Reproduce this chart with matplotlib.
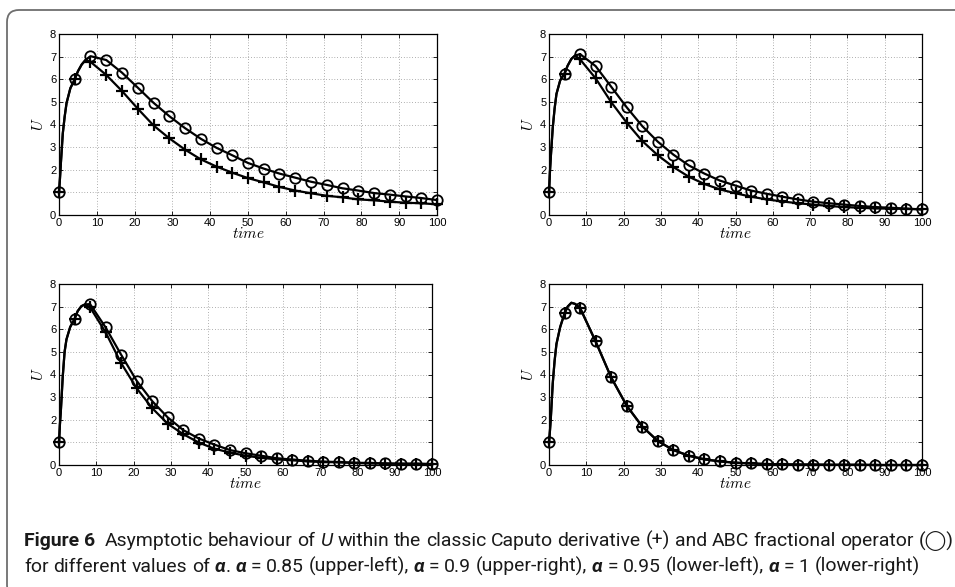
import numpy as np
import matplotlib
matplotlib.use("Agg")
import matplotlib.pyplot as plt
from matplotlib.patches import FancyBboxPatch

# marker times (every 100/24)
t_mark = [0, 4.17, 8.33, 12.5, 16.67, 20.83, 25, 29.17, 33.33, 37.5, 41.67, 45.83, 50,
          54.17, 58.33, 62.5, 66.67, 70.83, 75, 79.17, 83.33, 87.5, 91.67, 95.83, 100]

# dense start of the curves
t_early = [0, 0.25, 0.5, 1, 1.5, 2, 3, 4.17, 5, 6, 7]

# alpha = 0.85 (upper-left)
early_085 = [1.0, 1.6, 2.3, 3.6, 4.35, 4.95, 5.6, 6.0, 6.35, 6.65, 6.85]
abc_085 = [1.0, 6.0, 7.02, 6.85, 6.29, 5.63, 4.96, 4.37, 3.84, 3.37, 2.97, 2.64, 2.30,
           2.05, 1.83, 1.65, 1.47, 1.33, 1.18, 1.08, 0.97, 0.90, 0.82, 0.75, 0.66]
cap_085 = [1.0, 6.0, 6.77, 6.19, 5.48, 4.70, 3.96, 3.39, 2.89, 2.46, 2.14, 1.87, 1.63,
           1.44, 1.24, 1.08, 0.96, 0.85, 0.78, 0.69, 0.65, 0.59, 0.54, 0.52, 0.47]

# alpha = 0.9 (upper-right)
early_09 = [1.0, 1.9, 2.6, 3.85, 4.7, 5.35, 5.95, 6.25, 6.6, 6.9, 7.05]
abc_09 = [1.0, 6.25, 7.11, 6.58, 5.67, 4.76, 3.93, 3.24, 2.67, 2.19, 1.83, 1.52, 1.30,
          1.08, 0.94, 0.81, 0.69, 0.59, 0.52, 0.46, 0.40, 0.35, 0.32, 0.28, 0.25]
cap_09 = [1.0, 6.25, 6.88, 6.04, 4.99, 4.08, 3.27, 2.64, 2.12, 1.69, 1.37, 1.13, 0.96,
          0.81, 0.69, 0.60, 0.52, 0.46, 0.40, 0.35, 0.32, 0.29, 0.28, 0.27, 0.25]

# alpha = 0.95 (lower-left)
early_095 = [1.0, 1.8, 2.4, 3.9, 5.0, 5.55, 6.1, 6.45, 6.8, 7.02, 7.1]
abc_095 = [1.0, 6.45, 7.11, 6.08, 4.87, 3.72, 2.82, 2.10, 1.54, 1.17, 0.90, 0.66, 0.52,
           0.41, 0.30, 0.24, 0.19, 0.15, 0.13, 0.10, 0.09, 0.07, 0.06, 0.06, 0.04]
cap_095 = [1.0, 6.45, 6.97, 5.86, 4.50, 3.39, 2.51, 1.82, 1.36, 0.99, 0.72, 0.55, 0.41,
           0.32, 0.25, 0.21, 0.16, 0.13, 0.12, 0.09, 0.07, 0.06, 0.05, 0.05, 0.04]

# alpha = 1 (lower-right), both coincide
early_1 = [1.0, 1.5, 2.1, 3.6, 4.6, 5.35, 6.1, 6.7, 7.0, 7.17, 7.12]
abc_1 = [1.0, 6.7, 6.94, 5.46, 3.87, 2.62, 1.70, 1.06, 0.66, 0.41, 0.25, 0.16, 0.10,
         0.07, 0.04, 0.03, 0.02, 0.02, 0.01, 0.01, 0.01, 0.0, 0.0, 0.0, 0.0]
cap_1 = abc_1

panels = [
    (early_085, abc_085, cap_085, (59, 437, 34, 215)),
    (early_09, abc_09, cap_09, (549, 922, 34, 215)),
    (early_095, abc_095, cap_095, (59, 432, 284, 465)),
    (early_1, abc_1, cap_1, (549, 922, 284, 465)),
]

xticks = [0, 10, 20, 30, 40, 50, 60, 70, 80, 90, 100]
yticks = [0, 1, 2, 3, 4, 5, 6, 7, 8]
ytick_labels = ['0', '', '2', '3', '4', '5', '6', '7', '8']

W, H = 955, 587
plt.rcParams['mathtext.fontset'] = 'cm'
plt.rcParams['font.family'] = ['Liberation Sans', 'DejaVu Sans']
fig = plt.figure(figsize=(W / 100, H / 100), dpi=100)

# rounded frame around the figure
frame = FancyBboxPatch((7, -10), 980, 587,
                       boxstyle="round,pad=0,rounding_size=12",
                       transform=None, fill=False, ec='#6e6e6e', lw=1.3)
fig.patches.append(frame)

for early, abc, cap, (l, r, t, b) in panels:
    ax = fig.add_axes([l / W, 1 - b / H, (r - l) / W, (b - t) / H])
    # line = dense start + marker points after the peak
    n = sum(1 for v in t_mark if v <= t_early[-1])
    ax.plot(t_early + t_mark[n:], early + cap[n:], color='k', lw=1.6, zorder=3,
            clip_on=False)
    ax.plot(t_early + t_mark[n:], early + abc[n:], color='k', lw=1.6, zorder=3,
            clip_on=False)
    ax.plot(t_mark, cap, ls='none', marker='+', ms=8, mew=1.6, color='k',
            clip_on=False, zorder=4)
    ax.plot(t_mark, abc, ls='none', marker='o', ms=7.5, mew=1.3, mfc='none', mec='k',
            clip_on=False, zorder=4)
    ax.set_xlim(0, 100)
    ax.set_ylim(0, 8)
    ax.set_xticks(xticks)
    ax.set_yticks(yticks)
    ax.set_yticklabels(ytick_labels)
    ax.grid(True, ls=(0, (1, 3)), color='#666666', lw=0.5)
    ax.tick_params(direction='in', length=3, width=0.6, labelsize=8, pad=2,
                   top=True, right=True)
    for sp in ax.spines.values():
        sp.set_linewidth(0.9)
    ax.set_xlabel(r'$time$', fontsize=11, labelpad=-1)
    ax.set_ylabel(r'$U$', fontsize=11, labelpad=3)

# caption
fam = ['Roboto', 'DejaVu Sans']

line1 = [("Figure 6", 'b'), None, None, ("Asymptotic", 'r'), None, ("behaviour", 'r'), None,
         ("of", 'r'), None, ("U", 'i'), None, ("within", 'r'), None, ("the", 'r'), None,
         ("classic", 'r'), None, ("Caputo", 'r'), None, ("derivative", 'r'), None,
         ("(+)", 'r'), None, ("and", 'r'), None, ("ABC", 'r'), None, ("fractional", 'r'),
         None, ("operator", 'r'), None, ("(\u25EF)", 'r')]
line2 = [("for", 'r'), None, ("different", 'r'), None, ("values", 'r'), None, ("of", 'r'),
         None, ("\u03b1", 'bi'), (".", 'r'), None, ("\u03b1", 'bi'), None, ("=", 'r'), None,
         ("0.85", 'r'), None, ("(upper-left),", 'r'), None, ("\u03b1", 'bi'), None,
         ("=", 'r'), None, ("0.9", 'r'), None, ("(upper-right),", 'r'), None,
         ("\u03b1", 'bi'), None, ("=", 'r'), None, ("0.95", 'r'), None,
         ("(lower-left),", 'r'), None, ("\u03b1", 'bi'), None, ("=", 'r'), None,
         ("1", 'r'), None, ("(lower-right)", 'r')]

styles = {'r': dict(weight='normal', style='normal'),
          'b': dict(weight='bold', style='normal'),
          'i': dict(weight='normal', style='italic'),
          'bi': dict(weight='bold', style='italic')}

fig.canvas.draw()
renderer = fig.canvas.get_renderer()


def width_of(s, size, st):
    tx = fig.text(0, 0, s, fontsize=size, family=fam, **styles[st])
    w = tx.get_window_extent(renderer).width
    tx.remove()
    return w


def run_width(runs, size):
    sp = width_of("x x", size, 'r') - width_of("xx", size, 'r')
    total = 0
    for run in runs:
        total += sp if run is None else width_of(run[0], size, run[1])
    return total


def draw_runs(runs, x0, y0, size):
    sp = width_of("x x", size, 'r') - width_of("xx", size, 'r')
    x = x0
    for run in runs:
        if run is None:
            x += sp
            continue
        tx = fig.text(x / W, 1 - y0 / H, run[0], fontsize=size, family=fam,
                      va='baseline', ha='left', color='#1a1a1a', **styles[run[1]])
        x += tx.get_window_extent(renderer).width


size = 11.0
size = size * (948 - 24) / run_width(line1, size)
draw_runs(line1, 24, 546, size)
draw_runs(line2, 24, 572, size)

fig.savefig("out.png", dpi=100)
